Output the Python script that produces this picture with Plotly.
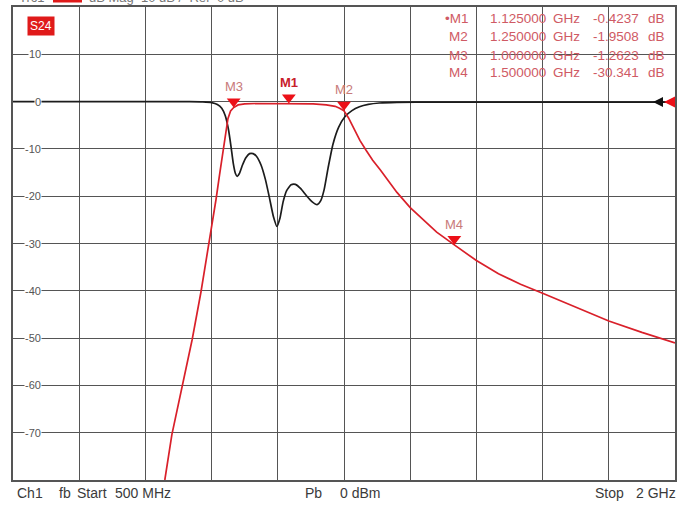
import plotly.graph_objects as go

# ---------------- data ----------------
# red trace (transmission) : frequency in MHz, level in dB
freq_red = [800, 844, 860, 883, 906, 926, 944, 960, 968, 975, 981, 987, 993, 1000, 1010, 1025,
            1050, 1100, 1125, 1150, 1180, 1210, 1230, 1240, 1250, 1260, 1272, 1286, 1300, 1315,
            1332, 1350, 1370, 1400, 1430, 1460, 1500, 1550, 1600, 1650, 1700, 1775, 1850, 1925, 2000]
s_red = [-95, -80, -70.4, -60.5, -50.3, -40.2, -30.2, -20.7, -15.5, -10.8, -6.8, -3.6, -2.0, -1.26, -0.7, -0.5,
         -0.4, -0.4, -0.42, -0.45, -0.5, -0.7, -1.0, -1.4, -1.95, -3.4, -5.6, -8.2, -10.3, -12.4,
         -14.4, -16.6, -19.2, -22.4, -25.1, -27.6, -30.3, -33.6, -36.4, -38.6, -40.5, -43.5, -46.4, -48.8, -51.0]

# black trace (reflection)
freq_blk = [500, 900, 930, 950, 963, 973, 981, 988, 994, 999, 1004, 1008, 1013, 1020, 1028, 1036,
            1044, 1052, 1062, 1072, 1081, 1090, 1098, 1105, 1112, 1120, 1130, 1140, 1152, 1165,
            1178, 1189, 1197, 1205, 1214, 1225, 1238, 1252, 1268, 1285, 1305, 1330, 1370, 1450, 2000]
s_blk = [0, 0, -0.05, -0.2, -0.6, -1.4, -3.0, -5.8, -9.5, -13.0, -15.2, -15.8, -15.2, -13.4, -11.8, -11.0,
         -11.0, -11.6, -13.4, -16.5, -20.3, -24.3, -26.4, -24.6, -21.2, -18.8, -17.6, -17.5, -18.4, -19.9,
         -21.2, -21.8, -21.0, -18.6, -14.0, -9.0, -5.4, -3.2, -1.9, -1.1, -0.6, -0.3, -0.15, -0.1, -0.1]

# markers
marker_names = ["M1", "M2", "M3", "M4"]
marker_freq_mhz = [1125, 1250, 1000, 1500]
marker_db = [-0.4237, -1.9508, -1.2623, -30.341]
marker_freq_txt = ["1.125000", "1.250000", "1.000000", "1.500000"]
marker_db_txt = ["-0.4237", "-1.9508", "-1.2623", "-30.341"]

y_tick_vals = [10, 0, -10, -20, -30, -40, -50, -60, -70]
y_tick_text = ["10", "0", "-10", "-20", "-30", "-40", "-50", "-60", "-70"]

# ---------------- layout geometry ----------------
W, H = 685, 506
L, R, T, B = 13, 10, 7, 26
PW, PH = W - L - R, H - T - B
X0, X1 = 500, 2000
Y0, Y1 = -80, 20


def px(xpix):
    return (xpix - L) / PW


def py(ypix):
    return 1 - (ypix - T) / PH


RED = "#d9202a"
MARK = "#ec1018"
PINK = "#cf5a64"
GRID = "#555555"
FONT = "Liberation Sans, Arial, sans-serif"

fig = go.Figure()

fig.add_trace(go.Scatter(x=freq_blk, y=s_blk, mode="lines",
                         line=dict(color="#1c1c1c", width=1.7, shape="spline", smoothing=0.5),
                         hoverinfo="skip", showlegend=False))
fig.add_trace(go.Scatter(x=freq_red, y=s_red, mode="lines",
                         line=dict(color=RED, width=1.7),
                         hoverinfo="skip", showlegend=False))

# marker triangles, tip on the data point
tri_size = 12
tip_px = tri_size * 0.5
db_per_px = (Y1 - Y0) / PH
fig.add_trace(go.Scatter(x=marker_freq_mhz, y=[d + tip_px * db_per_px for d in marker_db],
                         mode="markers",
                         marker=dict(symbol="triangle-down", size=tri_size, color=MARK,
                                     line=dict(width=0)),
                         hoverinfo="skip", showlegend=False, cliponaxis=False))

ann = []
# marker labels
for n, f, d in zip(marker_names, marker_freq_mhz, marker_db):
    active = n == "M1"
    ann.append(dict(x=f, y=d, xref="x", yref="y", text=("<b>%s</b>" % n) if active else n,
                    showarrow=False, yshift=21, xanchor="center", yanchor="middle",
                    font=dict(family=FONT, size=13, color="#c8202a" if active else "#c87a7a")))

# marker table (top right)
row_y = [18, 36.5, 55, 72.5]
for i, (n, ft, dt) in enumerate(zip(marker_names, marker_freq_txt, marker_db_txt)):
    yy = py(row_y[i])
    f = dict(family=FONT, size=13.5, color=PINK)
    name = ("\u2022" + n) if i == 0 else n
    ann.append(dict(x=px(470), y=yy, xref="paper", yref="paper", text=name, showarrow=False,
                    xanchor="right", yanchor="middle", font=f))
    ann.append(dict(x=px(548), y=yy, xref="paper", yref="paper", text=ft, showarrow=False,
                    xanchor="right", yanchor="middle", font=f))
    ann.append(dict(x=px(551), y=yy, xref="paper", yref="paper", text="GHz", showarrow=False,
                    xanchor="left", yanchor="middle", font=f))
    ann.append(dict(x=px(641), y=yy, xref="paper", yref="paper", text=dt, showarrow=False,
                    xanchor="right", yanchor="middle", font=f))
    ann.append(dict(x=px(667), y=yy, xref="paper", yref="paper", text="dB", showarrow=False,
                    xanchor="right", yanchor="middle", font=f))

# y tick labels inside the plot
for v, t in zip(y_tick_vals, y_tick_text):
    ann.append(dict(x=px(42), y=v, xref="paper", yref="y", text=t, showarrow=False,
                    xanchor="right", yanchor="middle", bgcolor="white", borderpad=0,
                    font=dict(family=FONT, size=11, color="#555555")))

# S24 tag
ann.append(dict(x=px(41), y=py(26), xref="paper", yref="paper", text="S24", showarrow=False,
                xanchor="center", yanchor="middle", bgcolor="#e01a1a", borderpad=2,
                font=dict(family=FONT, size=12, color="white")))

# bottom status line
bot = py(493)
for txt, xp, anc in [("Ch1", 15, "left"), ("fb", 57, "left"), ("Start", 75, "left"),
                     ("500 MHz", 113, "left"), ("Pb", 303, "left"), ("0 dBm", 382, "right"),
                     ("Stop", 593, "left"), ("2 GHz", 678, "right")]:
    ann.append(dict(x=px(xp), y=bot, xref="paper", yref="paper", text=txt, showarrow=False,
                    xanchor=anc, yanchor="middle", font=dict(family=FONT, size=14, color="#3a3a3a")))

# top (cut off) title line
ann.append(dict(x=px(18), y=py(6), xref="paper", yref="paper", text="Trc1", showarrow=False,
                xanchor="left", yanchor="bottom", borderpad=0,
                font=dict(family=FONT, size=13, color="#777777")))
ann.append(dict(x=px(88), y=py(6), xref="paper", yref="paper", text="dB Mag  10 dB /  Ref  0 dB",
                xanchor="left", yanchor="bottom", showarrow=False, borderpad=0,
                font=dict(family=FONT, size=13, color="#777777")))

shapes = [
    dict(type="rect", xref="paper", yref="paper", x0=px(53), x1=px(82), y0=py(2.5), y1=py(-2),
         fillcolor="#e01a1a", line=dict(width=0)),
    # reference level arrows at the right edge
    dict(type="path", xref="paper", yref="paper",
         path="M %f,%f L %f,%f L %f,%f Z" % (px(653), py(102), px(663), py(97), px(663), py(107)),
         fillcolor="#111111", line=dict(width=0)),
    dict(type="path", xref="paper", yref="paper",
         path="M %f,%f L %f,%f L %f,%f Z" % (px(664), py(102), px(675), py(96.5), px(675), py(107.5)),
         fillcolor=MARK, line=dict(width=0)),
]

fig.update_layout(
    width=W, height=H,
    margin=dict(l=L, r=R, t=T, b=B, pad=0, autoexpand=False),
    paper_bgcolor="white", plot_bgcolor="white",
    annotations=ann, shapes=shapes, hovermode=False,
    xaxis=dict(range=[X0, X1], tick0=X0, dtick=150, showgrid=True, gridcolor=GRID, gridwidth=1.2,
               showticklabels=False, ticks="", zeroline=False, automargin=False,
               showline=True, mirror=True, linecolor=GRID, linewidth=1.5),
    yaxis=dict(range=[Y0, Y1], tick0=0, dtick=10, showgrid=True, gridcolor=GRID, gridwidth=1.2,
               showticklabels=False, ticks="", zeroline=False, automargin=False,
               showline=True, mirror=True, linecolor=GRID, linewidth=1.5),
)

# remove the browser's default 8px page margin so the figure sits at the window's corner
fig.write_html("out.html", config={"displayModeBar": False},
               post_script="document.body.style.margin='0px';")
